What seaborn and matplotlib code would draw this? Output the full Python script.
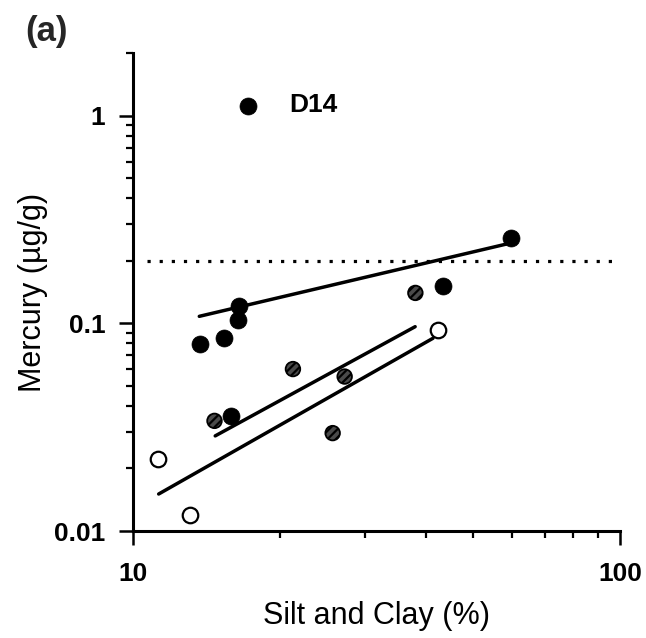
import matplotlib
matplotlib.use('Agg')
import matplotlib.pyplot as plt
import seaborn as sns
from matplotlib.ticker import FixedLocator, NullFormatter

# ---- data ----
filled_x = [17.2, 59.8, 43.3, 16.5, 16.4, 13.7, 15.4, 15.9]
filled_y = [1.11, 0.258, 0.151, 0.121, 0.104, 0.0798, 0.0853, 0.0356]

hatched_x = [38.0, 21.3, 27.2, 14.7, 25.7]
hatched_y = [0.140, 0.0602, 0.0554, 0.0339, 0.0296]

open_x = [42.2, 11.26, 13.1]
open_y = [0.0931, 0.0221, 0.0120]

filled_fit_x = [13.68, 58.6]
filled_fit_y = [0.108, 0.241]
hatched_fit_x = [14.75, 37.96]
hatched_fit_y = [0.0287, 0.0963]
open_fit_x = [11.29, 41.3]
open_fit_y = [0.01507, 0.0847]

guide_x = [10.7, 98.0]
guide_y = [0.2, 0.2]

x_major = [10, 100]
x_major_labels = ['10', '100']
x_minor = [20, 30, 40, 50, 60, 70, 80, 90]
y_major = [0.01, 0.1, 1]
y_major_labels = ['0.01', '0.1', '1']
y_minor = [0.02, 0.03, 0.04, 0.05, 0.06, 0.07, 0.08, 0.09,
           0.2, 0.3, 0.4, 0.5, 0.6, 0.7, 0.8, 0.9, 2]

label_text = 'D14'
label_pos = (20.9, 1.12)

# ---- style ----
sns.set_theme(style='ticks')
plt.rcParams['font.family'] = ['Liberation Sans', 'DejaVu Sans']
plt.rcParams['hatch.linewidth'] = 1.6
plt.rcParams['hatch.color'] = 'black'

fig = plt.figure(figsize=(6.46, 6.38), dpi=100)
ax = fig.add_axes([0.2059, 0.1677, 0.7539, 0.7492])
ax.set_xscale('log')
ax.set_yscale('log')

# fitted lines
for fx, fy in [(filled_fit_x, filled_fit_y), (hatched_fit_x, hatched_fit_y), (open_fit_x, open_fit_y)]:
    sns.lineplot(x=fx, y=fy, ax=ax, color='black', linewidth=2.5, sort=False,
                 estimator=None, zorder=2)

# dotted guideline
sns.lineplot(x=guide_x, y=guide_y, ax=ax, color='black', linewidth=2.3,
             sort=False, estimator=None, zorder=1)
ax.lines[-1].set_linestyle((0, (1.0, 2.8)))

# points
sns.scatterplot(x=filled_x, y=filled_y, ax=ax, s=150, color='black',
                edgecolor='black', linewidth=0.5, zorder=4)
sns.scatterplot(x=hatched_x, y=hatched_y, ax=ax, s=110, color='white',
                edgecolor='black', linewidth=1.3, zorder=4)
coll = ax.collections[-1]
coll.set_facecolor('#4a4a4a')
coll.set_hatch('////')
sns.scatterplot(x=open_x, y=open_y, ax=ax, s=125, color='white',
                edgecolor='black', linewidth=1.6, zorder=4)

ax.text(label_pos[0], label_pos[1], label_text, fontsize=19, fontweight='bold',
        ha='left', va='center', color='black')

ax.set_xlim(10, 100)
ax.set_ylim(0.01, 2)

ax.xaxis.set_major_locator(FixedLocator(x_major))
ax.set_xticklabels(x_major_labels, fontweight='bold')
ax.xaxis.set_minor_locator(FixedLocator(x_minor))
ax.xaxis.set_minor_formatter(NullFormatter())
ax.yaxis.set_major_locator(FixedLocator(y_major))
ax.set_yticklabels(y_major_labels, fontweight='bold')
ax.yaxis.set_minor_locator(FixedLocator(y_minor))
ax.yaxis.set_minor_formatter(NullFormatter())

ax.tick_params(which='major', direction='out', length=10, width=1.8,
               labelsize=19, color='black', labelcolor='black')
ax.tick_params(axis='x', which='major', pad=12)
ax.tick_params(axis='y', which='major', pad=10)
ax.tick_params(which='minor', direction='out', length=5, width=1.6, color='black')

sns.despine(ax=ax)
for side in ['left', 'bottom']:
    ax.spines[side].set_linewidth(2.2)
    ax.spines[side].set_color('black')

ax.set_xlabel('Silt and Clay (%)', fontsize=22, labelpad=11, color='black')
ax.set_ylabel('Mercury (µg/g)', fontsize=22, labelpad=4, color='black')
ax.grid(False)

fig.text(47 / 646, 1 - 31 / 638, '(a)', fontsize=25, fontweight='bold',
         ha='center', va='center')

fig.savefig('out.png', dpi=100)
